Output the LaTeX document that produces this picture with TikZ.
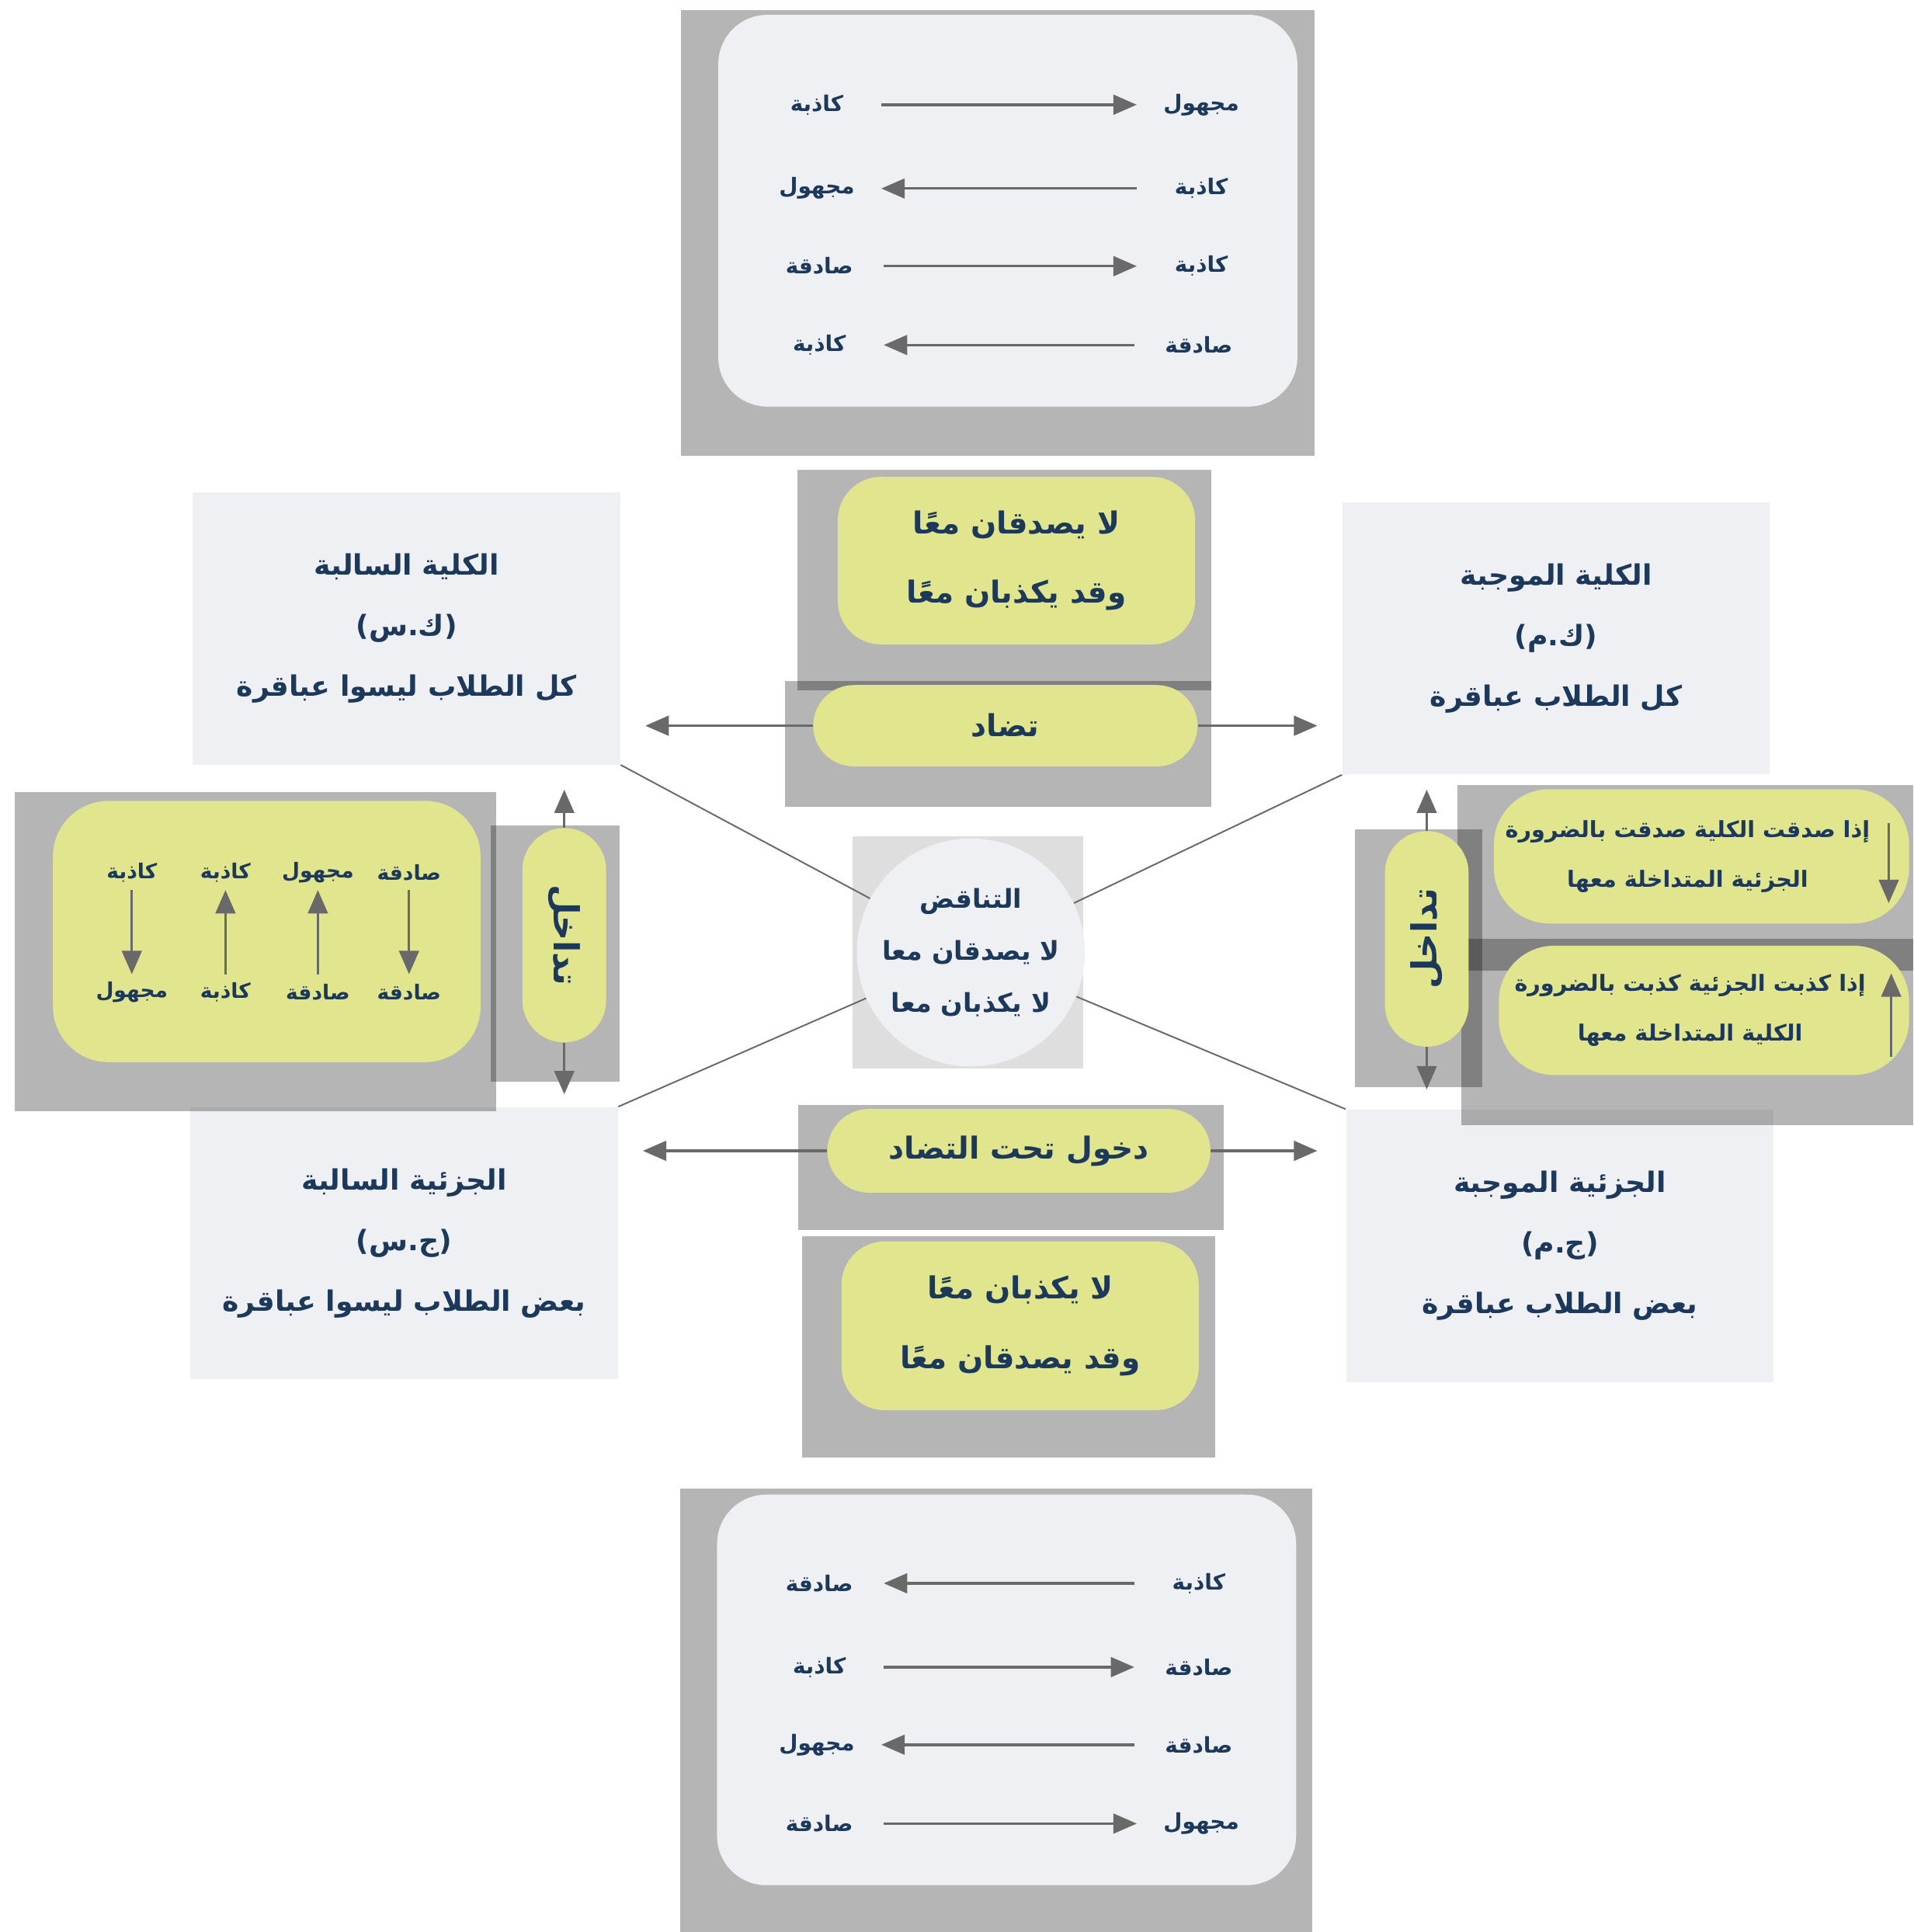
\documentclass[tikz,border=0pt]{standalone}
\usepackage{fontspec}
\usepackage{graphicx}
\usetikzlibrary{arrows.meta}
\TeXXeTstate=1
\newfontfamily\arabicfont[Script=Arabic]{DejaVu Sans}
\newcommand{\artext}[1]{\beginR #1\endR}

\definecolor{panelcol}{RGB}{239,240,243}
\definecolor{limecol}{RGB}{225,229,142}
\definecolor{navy}{RGB}{28,57,92}
\definecolor{linegray}{RGB}{105,105,105}
\definecolor{sqgray}{RGB}{222,222,222}

\tikzset{
  block/.style={fill=black, fill opacity=0.29},
  termbox/.style={fill=panelcol, minimum width=6.94cm, minimum height=4.42cm, align=center, text=navy, font=\arabicfont\bfseries\fontsize{13}{28}\selectfont},
  lbl/.style={text=navy, font=\arabicfont\bfseries\fontsize{10}{12}\selectfont, inner sep=0pt, minimum width=2.08cm},
  vlbl/.style={text=navy, font=\arabicfont\bfseries\fontsize{9.5}{12}\selectfont, inner sep=0pt, minimum height=0.56cm},
  pill/.style={fill=limecol, text=navy, inner sep=0pt, align=center, font=\arabicfont\bfseries\fontsize{14}{32}\selectfont},
  note/.style={fill=limecol, text=navy, inner sep=0pt, align=center, rounded corners=0.9cm, font=\arabicfont\bfseries\fontsize{10.3}{23}\selectfont},
  link/.style={->, draw=linegray, line width=1.2pt},
  thinlink/.style={draw=linegray, line width=0.7pt}
}

\begin{document}
\begin{tikzpicture}[x=0.02cm, y=-0.02cm, >={Triangle[length=0.38cm,width=0.32cm]}]

\useasboundingbox (0, 0) rectangle (1553, 1568);

\fill [block] (553, 8) rectangle (1067, 370);
\fill [panelcol, rounded corners=0.8cm] (583, 12) rectangle (1053, 330);

\node (t1l) at (663, 85) [lbl]{\artext{كاذبة}};
\node (t1r) at (975, 85) [lbl]{\artext{مجهول}};
\node (t2l) at (663, 153) [lbl]{\artext{مجهول}};
\node (t2r) at (975, 153) [lbl]{\artext{كاذبة}};
\node (t3l) at (665, 216) [lbl]{\artext{صادقة}};
\node (t3r) at (975, 216) [lbl]{\artext{كاذبة}};
\node (t4l) at (665, 280) [lbl]{\artext{كاذبة}};
\node (t4r) at (973, 280) [lbl]{\artext{صادقة}};

\draw [link] (t1l) -- (t1r);
\draw [link] (t2r) -- (t2l);
\draw [link] (t3l) -- (t3r);
\draw [link] (t4r) -- (t4l);

\fill [block] (647, 381) rectangle (983, 560);
\fill [block] (637, 553) rectangle (983, 655);
\node (lasidq) at (825, 455) [pill, minimum width=5.8cm, minimum height=2.72cm, rounded corners=0.7cm]{\artext{لا يصدقان معًا}\\\artext{وقد يكذبان معًا}};
\node (tadad) at (816, 589) [pill, minimum width=6.24cm, minimum height=1.32cm, rounded corners=0.66cm]{\artext{تضاد}};

\node (ks) at (330, 510) [termbox]{\artext{الكلية السالبة}\\\artext{(ك.س)}\\\artext{كل الطلاب ليسوا عباقرة}};
\node (km) at (1263, 518) [termbox]{\artext{الكلية الموجبة}\\\artext{(ك.م)}\\\artext{كل الطلاب عباقرة}};
\node (js) at (328, 1009) [termbox]{\artext{الجزئية السالبة}\\\artext{(ج.س)}\\\artext{بعض الطلاب ليسوا عباقرة}};
\node (jm) at (1266, 1011) [termbox]{\artext{الجزئية الموجبة}\\\artext{(ج.م)}\\\artext{بعض الطلاب عباقرة}};

\fill [sqgray] (692, 679) rectangle (879, 867);
\node (tanaqud) at (788, 773) [circle, fill=panelcol, minimum size=3.7cm, inner sep=0pt, align=center, text=navy, font=\arabicfont\bfseries\fontsize{12}{24}\selectfont]{\artext{التناقض}\\\artext{لا يصدقان معا}\\\artext{لا يكذبان معا}};

\draw [thinlink] (ks.south east) -- (tanaqud);
\draw [thinlink] (km.south west) -- (tanaqud);
\draw [thinlink] (js.north east) -- (tanaqud);
\draw [thinlink] (jm.north west) -- (tanaqud);

\fill [block] (12, 643) rectangle (403, 902);
\fill [block] (398, 670) rectangle (503, 878);
\fill [limecol, rounded corners=0.9cm] (43, 650) rectangle (390, 862);

\node (l1t) at (107, 708) [vlbl]{\artext{كاذبة}};
\node (l1b) at (107, 805) [vlbl]{\artext{مجهول}};
\node (l2t) at (183, 708) [vlbl]{\artext{كاذبة}};
\node (l2b) at (183, 805) [vlbl]{\artext{كاذبة}};
\node (l3t) at (258, 708) [vlbl]{\artext{مجهول}};
\node (l3b) at (258, 805) [vlbl]{\artext{صادقة}};
\node (l4t) at (332, 708) [vlbl]{\artext{صادقة}};
\node (l4b) at (332, 805) [vlbl]{\artext{صادقة}};

\draw [link] (l1t) -- (l1b);
\draw [link] (l2b) -- (l2t);
\draw [link] (l3b) -- (l3t);
\draw [link] (l4t) -- (l4b);

\node (tdl) at (458, 759) [pill, minimum width=1.36cm, minimum height=3.48cm, rounded corners=0.68cm, font=\arabicfont\bfseries\fontsize{16}{18}\selectfont]{\rotatebox{-90}{\artext{تداخل}}};

\fill [block] (1100, 673) rectangle (1203, 882);
\fill [block] (1183, 637) rectangle (1553, 788);
\fill [block] (1186, 762) rectangle (1553, 913);

\node (tdr) at (1158, 762) [pill, minimum width=1.36cm, minimum height=3.5cm, rounded corners=0.68cm, font=\arabicfont\bfseries\fontsize{16}{18}\selectfont]{\rotatebox{90}{\artext{تداخل}}};

\node (s1) at (1381, 695) [note, minimum width=6.74cm, minimum height=2.18cm]{\artext{إذا صدقت الكلية صدقت بالضرورة}\hspace*{0.45cm}\\\artext{الجزئية المتداخلة معها}\hspace*{0.45cm}};
\node (s2) at (1383, 820) [note, minimum width=6.66cm, minimum height=2.1cm]{\artext{إذا كذبت الجزئية كذبت بالضرورة}\hspace*{0.45cm}\\\artext{الكلية المتداخلة معها}\hspace*{0.45cm}};

\coordinate (s1top) at (1533, 668);
\coordinate (s1bot) at (1533, 733);
\coordinate (s2bot) at (1535, 858);
\coordinate (s2top) at (1535, 790);
\draw [link] (s1top) -- (s1bot);
\draw [link] (s2bot) -- (s2top);

\draw [link, shorten >=0.4cm] (tdl.north) -- (tdl.north |- ks.south);
\draw [link, shorten >=0.2cm] (tdl.south) -- (tdl.south |- js.north);
\draw [link, shorten >=0.24cm] (tdr.north) -- (tdr.north |- km.south);
\draw [link, shorten >=0.32cm] (tdr.south) -- (tdr.south |- jm.north);

\draw [link, shorten >=0.4cm] (tadad.west) -- (tadad.west -| ks.east);
\draw [link, shorten >=0.4cm] (tadad.east) -- (tadad.east -| km.west);

\fill [block] (648, 897) rectangle (993, 998);
\node (dukhul) at (827, 934) [pill, minimum width=6.22cm, minimum height=1.36cm, rounded corners=0.68cm]{\artext{دخول تحت التضاد}};
\fill [block] (651, 1003) rectangle (986, 1183);
\node (lakidhb) at (828, 1076) [pill, minimum width=5.8cm, minimum height=2.74cm, rounded corners=0.7cm]{\artext{لا يكذبان معًا}\\\artext{وقد يصدقان معًا}};

\draw [link, shorten >=0.4cm] (dukhul.west) -- (dukhul.west -| js.east);
\draw [link, shorten >=0.46cm] (dukhul.east) -- (dukhul.east -| jm.west);

\fill [block] (552, 1208) rectangle (1065, 1568);
\fill [panelcol, rounded corners=0.8cm] (582, 1213) rectangle (1052, 1530);

\node (b1l) at (665, 1285) [lbl]{\artext{صادقة}};
\node (b1r) at (973, 1285) [lbl]{\artext{كاذبة}};
\node (b2l) at (665, 1353) [lbl]{\artext{كاذبة}};
\node (b2r) at (973, 1353) [lbl]{\artext{صادقة}};
\node (b3l) at (663, 1416) [lbl]{\artext{مجهول}};
\node (b3r) at (973, 1416) [lbl]{\artext{صادقة}};
\node (b4l) at (665, 1480) [lbl]{\artext{صادقة}};
\node (b4r) at (975, 1480) [lbl]{\artext{مجهول}};

\draw [link] (b1r) -- (b1l);
\draw [link] (b2l) -- (b2r);
\draw [link] (b3r) -- (b3l);
\draw [link] (b4l) -- (b4r);

\end{tikzpicture}
\end{document}
